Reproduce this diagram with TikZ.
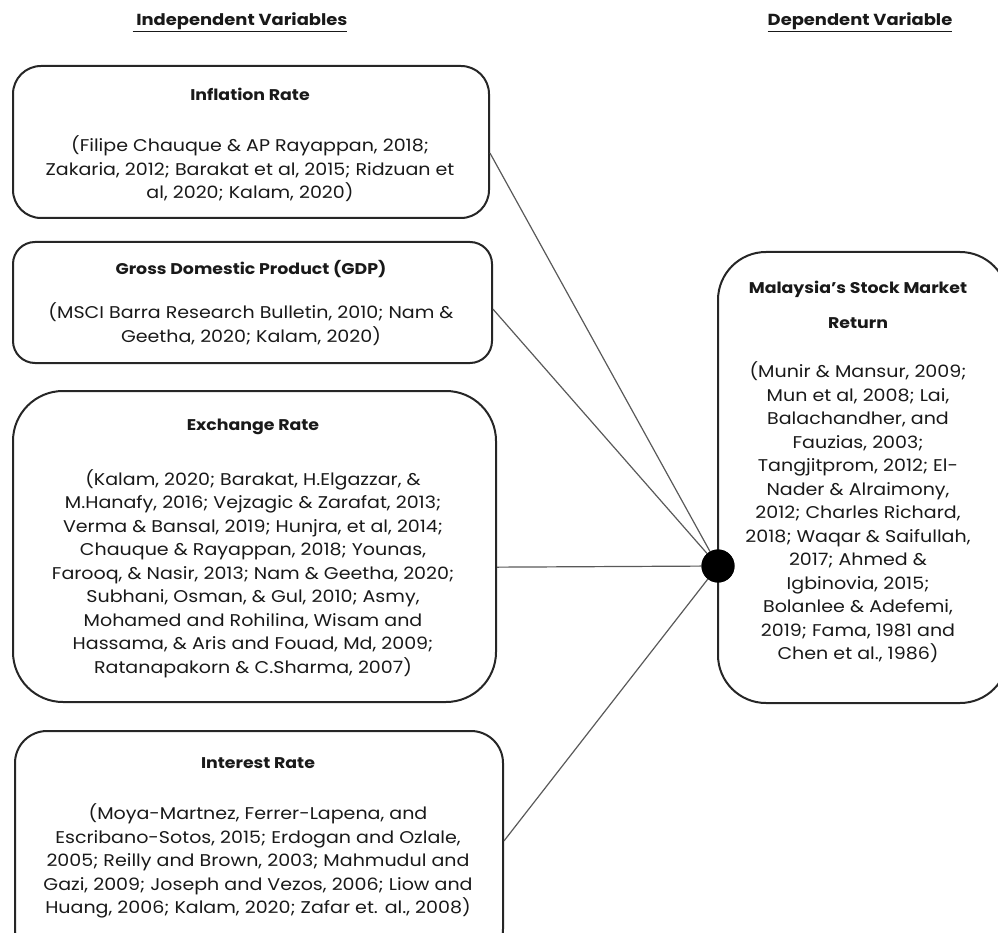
\documentclass[tikz,border=0pt]{standalone}
\usepackage{fontspec}
\setmainfont{Poppins}[FakeStretch=1.12]
\usetikzlibrary{calc}
\tikzset{
  varbox/.style={draw=black!85, line width=2pt, anchor=north west, inner sep=0pt},
  body/.style={align=center, font=\fontsize{17}{23.5}\selectfont, text=black!90},
  ttl/.style={align=center, font=\bfseries\fontsize{15.5}{20}\selectfont, text=black!90},
  head/.style={font=\bfseries\fontsize{16}{20}\selectfont, text=black!90},
  conn/.style={draw=black!65, line width=1.2pt}
}
\begin{document}
\begin{tikzpicture}[x=1pt,y=-1pt]
\useasboundingbox (0,0) rectangle (998,933);
% headings
\node[head] (hind) at (240,22) {\underline{~Independent Variables}};
\node[head] (hdep) at (860,22) {\underline{Dependent Variable}};
% boxes
\node[varbox, rounded corners=28pt, minimum width=476pt, minimum height=152pt] (b1) at (12,65) {};
\node[varbox, rounded corners=22pt, minimum width=479pt, minimum height=121pt] (b2) at (12,241) {};
\node[varbox, rounded corners=50pt, minimum width=483pt, minimum height=311pt] (b3) at (12,390) {};
\node[varbox, rounded corners=32pt, minimum width=488pt, minimum height=230pt] (b4) at (14,730) {};
\node[varbox, rounded corners=48pt, minimum width=290pt, minimum height=451pt] (dv) at (717,251) {};
% texts
\node[ttl] (t1) at (250,94) {Inflation Rate};
\node[body] (c1) at (250,169) {(Filipe Chauque \& AP Rayappan, 2018;\\Zakaria, 2012; Barakat et al, 2015; Ridzuan et\\al, 2020; Kalam, 2020)};
\node[ttl] (t2) at (251,269) {Gross Domestic Product (GDP)};
\node[body] (c2) at (251,324) {(MSCI Barra Research Bulletin, 2010; Nam \&\\Geetha, 2020; Kalam, 2020)};
\node[ttl] (t3) at (253,427) {Exchange Rate};
\node[body] (c3) at (253,573.5) {(Kalam, 2020; Barakat, H.Elgazzar, \&\\M.Hanafy, 2016; Vejzagic \& Zarafat, 2013;\\Verma \& Bansal, 2019; Hunjra, et al, 2014;\\Chauque \& Rayappan, 2018; Younas,\\Farooq, \& Nasir, 2013; Nam \& Geetha, 2020;\\Subhani, Osman, \& Gul, 2010; Asmy,\\Mohamed and Rohilina, Wisam and\\Hassama, \& Aris and Fouad, Md, 2009;\\Ratanapakorn \& C.Sharma, 2007)};
\node[ttl] (t4) at (258,763) {Interest Rate};
\node[body] (c4) at (258,861) {(Moya-Martnez, Ferrer-Lapena, and\\Escribano-Sotos, 2015; Erdogan and Ozlale,\\2005; Reilly and Brown, 2003; Mahmudul and\\Gazi, 2009; Joseph and Vezos, 2006; Liow and\\Huang, 2006; Kalam, 2020; Zafar et. al., 2008)};
\node[ttl] (td) at (858,304.5) {Malaysia's Stock Market\\[15pt]Return};
\node[body] (cd) at (858,512.5) {(Munir \& Mansur, 2009;\\Mun et al, 2008; Lai,\\Balachandher, and\\Fauzias, 2003;\\Tangjitprom, 2012; El-\\Nader \& Alraimony,\\2012; Charles Richard,\\2018; Waqar \& Saifullah,\\2017; Ahmed \&\\Igbinovia, 2015;\\Bolanlee \& Adefemi,\\2019; Fama, 1981 and\\Chen et al., 1986)};
% junction dot
\node[circle, fill=black, minimum size=33pt, inner sep=0pt] (dot) at (718,566) {};
% connectors
\draw[conn] ($(b1.north east)!0.572!(b1.south east)$) -- (dot.center);
\draw[conn] ($(b2.north east)!0.554!(b2.south east)$) -- (dot.center);
\draw[conn] ($(b3.north east)!0.566!(b3.south east)$) -- (dot.center);
\draw[conn] ($(b4.north east)!0.478!(b4.south east)$) -- (dot.center);
\node[circle, fill=black, minimum size=33pt, inner sep=0pt] at (dot) {};
\end{tikzpicture}
\end{document}
